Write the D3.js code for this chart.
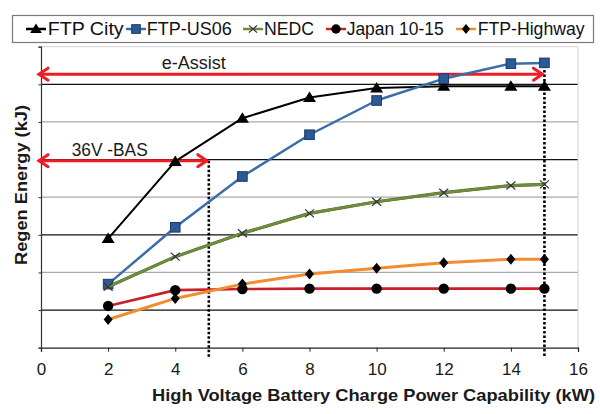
<!DOCTYPE html>
<html><head><meta charset="utf-8">
<script src="https://cdn.jsdelivr.net/npm/d3@7/dist/d3.min.js"></script>
<style>body{margin:0;background:#fff}svg{display:block;font-family:"Liberation Sans",Arial,sans-serif}</style>
</head><body><svg id="c" width="600" height="414"></svg>
<script>
const xValues = [2, 4, 6, 8, 10, 12, 14, 15];
const ftpCity = [2.9, 4.95, 6.1, 6.65, 6.9, 6.95, 6.95, 6.95];
const ftpUS06 = [1.69, 3.2, 4.55, 5.66, 6.57, 7.15, 7.55, 7.57];
const nedc = [1.62, 2.42, 3.04, 3.57, 3.88, 4.12, 4.31, 4.34];
const japan1015 = [1.11, 1.53, 1.56, 1.57, 1.57, 1.57, 1.57, 1.57];
const ftpHighway = [0.75, 1.31, 1.69, 1.96, 2.11, 2.26, 2.35, 2.35];
const seriesNames = ["FTP City", "FTP-US06", "NEDC", "Japan 10-15", "FTP-Highway"];
const xTicks = [0, 2, 4, 6, 8, 10, 12, 14, 16];
const gridValues = [1, 2, 3, 4, 5, 6, 7, 8];
const arrowLabels = ["e-Assist", "36V -BAS"];
const arrowLevels = [7.27, 4.97];
const arrowEnds = [15, 5];

const svg = d3.select("#c");
const x = d3.scaleLinear().domain([0, 16]).range([41, 578]);
const y = d3.scaleLinear().domain([0, 8]).range([347.7, 46.7]);

// gridlines
svg.append("g").selectAll("line").data(gridValues).join("line")
  .attr("x1", x(0)).attr("x2", x(16)).attr("y1", d => y(d)).attr("y2", d => y(d))
  .attr("stroke", d => d === 8 ? "#cfcfcf" : (d % 2 === 1 ? "#111" : "#a8a8a8"))
  .attr("stroke-width", d => d === 8 ? 1 : 1.3);
svg.append("line").attr("x1", x(16)).attr("x2", x(16)).attr("y1", y(8)).attr("y2", y(0))
  .attr("stroke", "#cfcfcf").attr("stroke-width", 1);

// axes
const xAxis = d3.axisBottom(x).tickValues(xTicks).tickSize(4).tickFormat(d3.format("d"));
const gx = svg.append("g").attr("transform", `translate(0,${y(0)})`).call(xAxis);
gx.select(".domain").attr("stroke", "#222").attr("stroke-width", 1.3);
gx.selectAll(".tick line").attr("stroke", "#222");
gx.selectAll(".tick text").attr("font-size", 17).attr("fill", "#1a1a1a").attr("font-family", "Liberation Sans, Arial").attr("dy", "1.2em");
const yAxis = d3.axisLeft(y).tickValues([0, ...gridValues]).tickSize(2.5).tickFormat("");
const gy = svg.append("g").attr("transform", `translate(${x(0)},0)`).call(yAxis);
gy.select(".domain").attr("stroke", "#333").attr("stroke-width", 1.2);
gy.selectAll(".tick line").attr("stroke", "#333");

// axis titles
svg.append("text").attr("x", 152).attr("y", 401).attr("font-size", 17).attr("font-weight", "bold")
  .attr("fill", "#1a1a1a").attr("textLength", 443).attr("lengthAdjust", "spacingAndGlyphs")
  .text("High Voltage Battery Charge Power Capability (kW)");
svg.append("text").attr("transform", "translate(27,185) rotate(-90)").attr("text-anchor", "middle")
  .attr("font-size", 17).attr("font-weight", "bold").attr("fill", "#1a1a1a")
  .attr("textLength", 160).attr("lengthAdjust", "spacingAndGlyphs")
  .text("Regen Energy (kJ)");

// dotted verticals
arrowEnds.forEach((xe, i) => {
  svg.append("line").attr("x1", x(xe)).attr("x2", x(xe))
    .attr("y1", i === 0 ? y(7.5) : y(arrowLevels[i])).attr("y2", 357)
    .attr("stroke", "#000").attr("stroke-width", 2.6).attr("stroke-dasharray", "2.5,2");
});

// arrows
const red = "#ee1c25";
arrowLevels.forEach((lv, i) => {
  const g = svg.append("g").attr("stroke", red).attr("stroke-width", 3).attr("fill", "none").attr("stroke-linecap", "round");
  const x0 = x(0) - 2, x1 = x(arrowEnds[i]) - 2, yy = y(lv);
  g.append("line").attr("x1", x0).attr("x2", x1).attr("y1", yy).attr("y2", yy);
  g.append("path").attr("d", `M${x0 + 9},${yy - 6}L${x0},${yy}L${x0 + 9},${yy + 6}`);
  g.append("path").attr("d", `M${x1 - 9},${yy - 6}L${x1},${yy}L${x1 - 9},${yy + 6}`);
});
svg.append("text").attr("x", 161.7).attr("y", 69.3).attr("font-size", 17.5).attr("fill", "#1a1a1a")
  .attr("textLength", 64).attr("lengthAdjust", "spacingAndGlyphs").text(arrowLabels[0]);
svg.append("text").attr("x", 71.7).attr("y", 155.7).attr("font-size", 17.5).attr("fill", "#1a1a1a")
  .attr("textLength", 76).attr("lengthAdjust", "spacingAndGlyphs").text(arrowLabels[1]);

// marker painters
const markers = {
  tri: (g, s) => g.append("path").attr("d", `M0,${-6*s}L${6.5*s},${4.5*s}L${-6.5*s},${4.5*s}Z`).attr("fill", "#000"),
  sq: (g, s) => g.append("rect").attr("x", -4.8*s).attr("y", -4.8*s).attr("width", 9.6*s).attr("height", 9.6*s)
    .attr("fill", "#2b5a94").attr("stroke", "#1c3a66").attr("stroke-width", 1),
  x: (g, s) => g.append("path").attr("d", `M${-4.5*s},${-4*s}L${4.5*s},${4*s}M${-4.5*s},${4*s}L${4.5*s},${-4*s}`)
    .attr("stroke", "#333").attr("stroke-width", 1.2).attr("fill", "none"),
  circ: (g, s) => g.append("circle").attr("r", 5.2*s).attr("fill", "#000"),
  dia: (g, s) => g.append("path").attr("d", `M0,${-5.5*s}L${4.5*s},0L0,${5.5*s}L${-4.5*s},0Z`).attr("fill", "#000")
};
const series = [
  {name: seriesNames[0], vals: ftpCity, color: "#000", w: 2, m: "tri"},
  {name: seriesNames[1], vals: ftpUS06, color: "#3b6ea8", w: 2.5, m: "sq"},
  {name: seriesNames[2], vals: nedc, color: "#6f8c3c", w: 2.6, m: "x", outline: "#4f6628"},
  {name: seriesNames[3], vals: japan1015, color: "#c8202a", w: 2.6, m: "circ"},
  {name: seriesNames[4], vals: ftpHighway, color: "#f28c2e", w: 3, m: "dia"}
];
const line = d3.line().x(d => x(d[0])).y(d => y(d[1]));
series.forEach(s => {
  const pts = xValues.map((xv, i) => [xv, s.vals[i]]);
  if (s.outline) svg.append("path").attr("d", line(pts)).attr("fill", "none").attr("stroke", s.outline).attr("stroke-width", s.w + 0.6).attr("stroke-linejoin", "round");
  svg.append("path").attr("d", line(pts)).attr("fill", "none").attr("stroke", s.color).attr("stroke-width", s.w).attr("stroke-linejoin", "round");
  pts.forEach(p => {
    const g = svg.append("g").attr("transform", `translate(${x(p[0])},${y(p[1])})`);
    markers[s.m](g, 1);
  });
});

// legend
svg.append("rect").attr("x", 12.5).attr("y", 15.5).attr("width", 581).attr("height", 27)
  .attr("fill", "#fff").attr("stroke", "#7a7a7a").attr("stroke-width", 1.2);
const legX = [36, 136, 253, 336, 466];
const legTextX = [47.7, 146.7, 264, 346.7, 477.7];
const legW = [76, 85, 50, 97, 107];
series.forEach((s, i) => {
  const ly = 29;
  svg.append("line").attr("x1", legX[i] - 10).attr("x2", legX[i] + 10).attr("y1", ly).attr("y2", ly)
    .attr("stroke", s.color).attr("stroke-width", 2.5);
  const g = svg.append("g").attr("transform", `translate(${legX[i]},${ly})`);
  markers[s.m](g, 0.9);
  svg.append("text").attr("x", legTextX[i]).attr("y", 35).attr("font-size", 17.5).attr("fill", "#111")
    .attr("textLength", legW[i]).attr("lengthAdjust", "spacingAndGlyphs").text(s.name);
});
</script></body></html>
